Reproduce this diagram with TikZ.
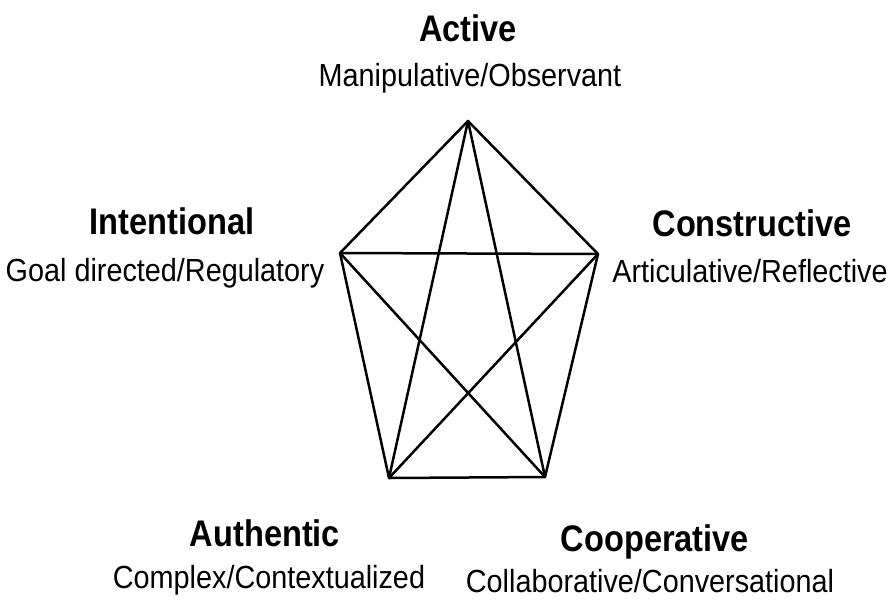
\documentclass[tikz,border=0pt]{standalone}
\usepackage{fontspec}
\setmainfont{Liberation Sans}[FakeStretch=0.9]
\newfontfamily\headfont{Liberation Sans}[FakeStretch=0.88]
\begin{document}
\begin{tikzpicture}[x=1pt,y=-1pt,
  head/.style={font=\headfont\fontsize{37}{37}\selectfont\bfseries, anchor=base, inner sep=0pt},
  sub/.style={font=\fontsize{32}{32}\selectfont, anchor=base, inner sep=0pt},
  edge/.style={line width=2.5pt, line join=round, line cap=round}]
\useasboundingbox (0,0) rectangle (893,606);
\coordinate (T) at (468,121);
\coordinate (L) at (340,253);
\coordinate (R) at (598,254);
\coordinate (BL) at (389,478);
\coordinate (BR) at (545,477);
\draw[edge] (T) -- (R) -- (BR) -- (BL) -- (L) -- cycle;
\draw[edge] (T) -- (BL);
\draw[edge] (T) -- (BR);
\draw[edge] (L) -- (R);
\draw[edge] (L) -- (BR);
\draw[edge] (R) -- (BL);
\node[head] (act) at (468,41) {Active};
\node[sub] (acts) at (470,86) {Manipulative/Observant};
\node[head] (int) at (172,234) {Intentional};
\node[sub] (ints) at (165,281) {Goal directed/Regulatory};
\node[head] (con) at (752,236) {Constructive};
\node[sub] (cons) at (750,282) {Articulative/Reflective};
\node[head] (aut) at (265,546) {Authentic};
\node[sub] (auts) at (269,588) {Complex/Contextualized};
\node[head] (coo) at (655,551) {Cooperative};
\node[sub] (coos) at (650,592) {Collaborative/Conversational};
\end{tikzpicture}
\end{document}
